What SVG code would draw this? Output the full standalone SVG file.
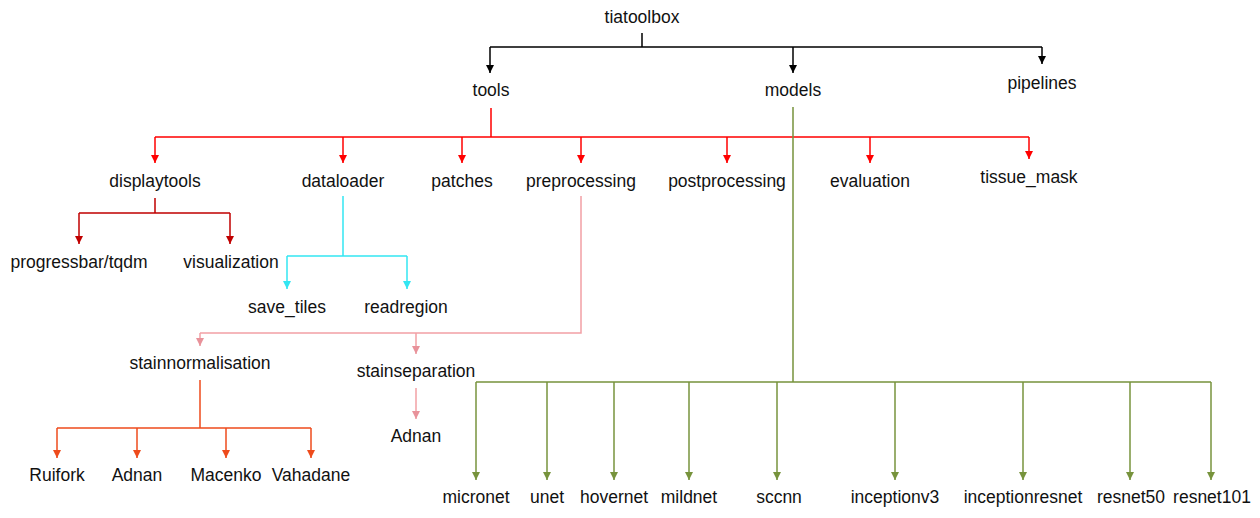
<svg xmlns="http://www.w3.org/2000/svg" width="1260" height="518" viewBox="0 0 1260 518">
<style>
text{font-family:"Liberation Sans",Arial,sans-serif;font-size:17.5px;fill:#111;text-anchor:middle}
.c{fill:none;stroke-width:1.5}
.k{stroke:#000}
.r{stroke:#FF0000}
.dr{stroke:#C00000}
.cy{stroke:#33E6F2}
.pk{stroke:#F2A0A5}
.or{stroke:#EE4B1C}
.gr{stroke:#77933C}
</style>
<defs>
<marker id="ak" viewBox="0 0 10 10" refX="10" refY="5" markerWidth="8" markerHeight="8" markerUnits="userSpaceOnUse" orient="auto"><path d="M0,0L10,5L0,10z" fill="#000"/></marker>
<marker id="ar" viewBox="0 0 10 10" refX="10" refY="5" markerWidth="8" markerHeight="8" markerUnits="userSpaceOnUse" orient="auto"><path d="M0,0L10,5L0,10z" fill="#FF0000"/></marker>
<marker id="adr" viewBox="0 0 10 10" refX="10" refY="5" markerWidth="8" markerHeight="8" markerUnits="userSpaceOnUse" orient="auto"><path d="M0,0L10,5L0,10z" fill="#C00000"/></marker>
<marker id="acy" viewBox="0 0 10 10" refX="10" refY="5" markerWidth="8" markerHeight="8" markerUnits="userSpaceOnUse" orient="auto"><path d="M0,0L10,5L0,10z" fill="#33E6F2"/></marker>
<marker id="apk" viewBox="0 0 10 10" refX="10" refY="5" markerWidth="8" markerHeight="8" markerUnits="userSpaceOnUse" orient="auto"><path d="M0,0L10,5L0,10z" fill="#E8929A"/></marker>
<marker id="aor" viewBox="0 0 10 10" refX="10" refY="5" markerWidth="8" markerHeight="8" markerUnits="userSpaceOnUse" orient="auto"><path d="M0,0L10,5L0,10z" fill="#EE4B1C"/></marker>
<marker id="agr" viewBox="0 0 10 10" refX="10" refY="5" markerWidth="8" markerHeight="8" markerUnits="userSpaceOnUse" orient="auto"><path d="M0,0L10,5L0,10z" fill="#77933C"/></marker>
</defs>
<g id="connectors">
<path class="c k" d="M642,33V47M490,47H1042"/>
<path class="c k" d="M490,47V73" marker-end="url(#ak)"/>
<path class="c k" d="M793,47V73" marker-end="url(#ak)"/>
<path class="c k" d="M1042,47V64" marker-end="url(#ak)"/>
<path class="c r" d="M491,108V137M155,137H1029"/>
<path class="c r" d="M155,137V163" marker-end="url(#ar)"/>
<path class="c r" d="M343,137V163" marker-end="url(#ar)"/>
<path class="c r" d="M462,137V163" marker-end="url(#ar)"/>
<path class="c r" d="M581,137V163" marker-end="url(#ar)"/>
<path class="c r" d="M727,137V163" marker-end="url(#ar)"/>
<path class="c r" d="M870,137V163" marker-end="url(#ar)"/>
<path class="c r" d="M1029,137V159" marker-end="url(#ar)"/>
<path class="c dr" d="M155,198V213M79,213H230"/>
<path class="c dr" d="M79,213V244" marker-end="url(#adr)"/>
<path class="c dr" d="M230,213V244" marker-end="url(#adr)"/>
<path class="c cy" d="M343,196V256M287,256H407"/>
<path class="c cy" d="M287,256V289" marker-end="url(#acy)"/>
<path class="c cy" d="M407,256V289" marker-end="url(#acy)"/>
<path class="c pk" d="M581,196V333H200"/>
<path class="c pk" d="M200,333V346" marker-end="url(#apk)"/>
<path class="c pk" d="M416,333V354" marker-end="url(#apk)"/>
<path class="c pk" d="M416,388V419" marker-end="url(#apk)"/>
<path class="c or" d="M200,380V428M57,428H311"/>
<path class="c or" d="M57,428V458" marker-end="url(#aor)"/>
<path class="c or" d="M137,428V458" marker-end="url(#aor)"/>
<path class="c or" d="M226,428V458" marker-end="url(#aor)"/>
<path class="c or" d="M311,428V458" marker-end="url(#aor)"/>
<path class="c gr" d="M793,107V382M476,382H1211"/>
<path class="c gr" d="M476,382V480" marker-end="url(#agr)"/>
<path class="c gr" d="M547,382V480" marker-end="url(#agr)"/>
<path class="c gr" d="M614,382V480" marker-end="url(#agr)"/>
<path class="c gr" d="M689,382V480" marker-end="url(#agr)"/>
<path class="c gr" d="M777,382V480" marker-end="url(#agr)"/>
<path class="c gr" d="M895,382V480" marker-end="url(#agr)"/>
<path class="c gr" d="M1023,382V480" marker-end="url(#agr)"/>
<path class="c gr" d="M1130,382V480" marker-end="url(#agr)"/>
<path class="c gr" d="M1211,382V480" marker-end="url(#agr)"/>
</g>
<g id="n-tiatoolbox"><text x="642" y="23">tiatoolbox</text></g>
<g id="n-tools"><text x="491" y="96">tools</text></g>
<g id="n-models"><text x="793" y="96">models</text></g>
<g id="n-pipelines"><text x="1042" y="89">pipelines</text></g>
<g id="n-displaytools"><text x="155" y="187">displaytools</text></g>
<g id="n-dataloader"><text x="343" y="187">dataloader</text></g>
<g id="n-patches"><text x="462" y="187">patches</text></g>
<g id="n-preprocessing"><text x="581" y="187">preprocessing</text></g>
<g id="n-postprocessing"><text x="727" y="187">postprocessing</text></g>
<g id="n-evaluation"><text x="870" y="187">evaluation</text></g>
<g id="n-tissue_mask"><text x="1029" y="183">tissue_mask</text></g>
<g id="n-progressbar"><text x="79" y="268">progressbar/tqdm</text></g>
<g id="n-visualization"><text x="231" y="268">visualization</text></g>
<g id="n-save_tiles"><text x="287" y="313">save_tiles</text></g>
<g id="n-readregion"><text x="406" y="313">readregion</text></g>
<g id="n-stainnormalisation"><text x="200" y="369">stainnormalisation</text></g>
<g id="n-stainseparation"><text x="416" y="377">stainseparation</text></g>
<g id="n-adnan-sep"><text x="416" y="442">Adnan</text></g>
<g id="n-ruifork"><text x="57" y="481">Ruifork</text></g>
<g id="n-adnan-norm"><text x="137" y="481">Adnan</text></g>
<g id="n-macenko"><text x="226" y="481">Macenko</text></g>
<g id="n-vahadane"><text x="311" y="481">Vahadane</text></g>
<g id="n-micronet"><text x="476" y="503">micronet</text></g>
<g id="n-unet"><text x="547" y="503">unet</text></g>
<g id="n-hovernet"><text x="614" y="503">hovernet</text></g>
<g id="n-mildnet"><text x="689" y="503">mildnet</text></g>
<g id="n-sccnn"><text x="779" y="503">sccnn</text></g>
<g id="n-inceptionv3"><text x="895" y="503">inceptionv3</text></g>
<g id="n-inceptionresnet"><text x="1023" y="503">inceptionresnet</text></g>
<g id="n-resnet50"><text x="1131" y="503">resnet50</text></g>
<g id="n-resnet101"><text x="1212" y="503">resnet101</text></g>
</svg>
